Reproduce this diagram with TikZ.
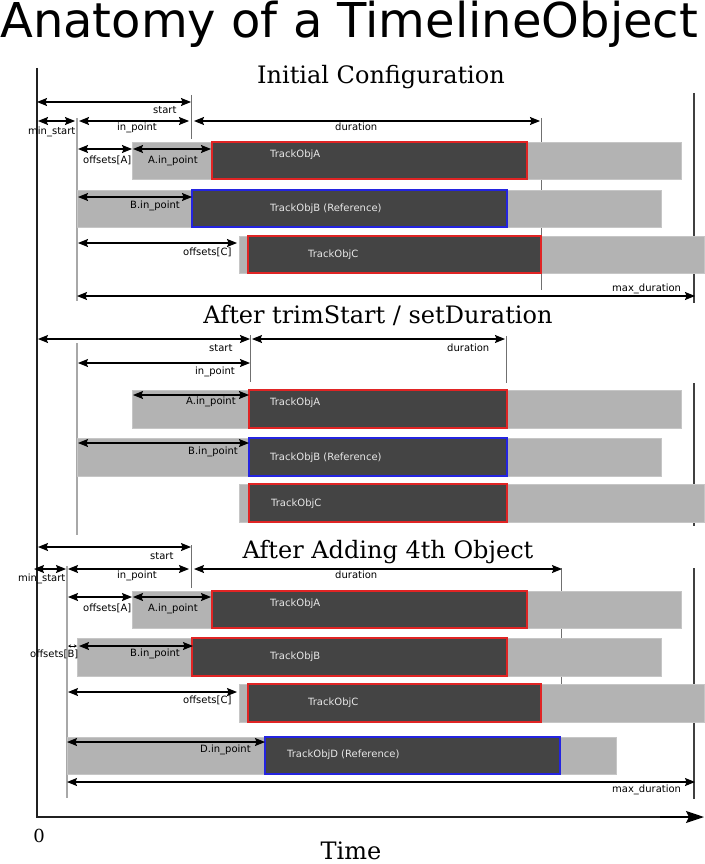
\documentclass[tikz,border=0pt]{standalone}
\usepackage{fontspec}
\setmainfont{DejaVu Serif}
\setsansfont{DejaVu Sans}
\usetikzlibrary{arrows.meta}
\definecolor{boxgray}{HTML}{B3B3B3}
\definecolor{boxedge}{HTML}{C6C6C6}
\definecolor{darkbox}{HTML}{444444}
\definecolor{redb}{HTML}{E02424}
\definecolor{blueb}{HTML}{2424E0}
\definecolor{guide}{HTML}{A8A8A8}
\definecolor{tick}{HTML}{707070}
\definecolor{boxtext}{HTML}{E8E8E8}
\definecolor{axis}{HTML}{202020}
\newcommand\tlrow[7]{%
  \fill[boxgray,draw=boxedge,line width=0.8pt] (#1,#3) rectangle (#2,#4);
  \draw[fill=darkbox,draw=#7,line width=1.2pt] (#5,#3) rectangle (#6,#4);
}
\begin{document}
\begin{tikzpicture}[x=1pt,y=-1pt,
  dim/.style={{Stealth[length=10pt,width=8pt,inset=1.5pt]}-{Stealth[length=10pt,width=8pt,inset=1.5pt]},line width=1.1pt,black},
  tinydim/.style={{Stealth[length=3pt,width=3pt]}-{Stealth[length=3pt,width=3pt]},line width=0.8pt,black},
  lbl/.style={font=\sffamily\fontsize{10}{12}\selectfont,inner sep=0,anchor=mid west,yshift=-1.2pt},
  btxt/.style={font=\sffamily\fontsize{10}{12}\selectfont,inner sep=0,anchor=mid west,yshift=-1.5pt,text=boxtext},
  sect/.style={font=\fontsize{24}{28}\selectfont,inner sep=0,anchor=base},
  guideline/.style={guide,line width=1.8pt},
  tickline/.style={tick,line width=0.9pt},
  edgeline/.style={black!75,line width=1.2pt}]
\useasboundingbox (0,0) rectangle (704,864);

% title
\node[font=\sffamily\fontsize{48}{52}\selectfont,inner sep=0,anchor=base west] (title) at (0,38) {Anatomy of a TimelineObject};

% axes
\draw[axis,line width=2pt] (37,68) -- (37,817) -- (690,817);
\draw[black,line width=1.5pt,-{Stealth[length=18pt,width=12pt,inset=3pt]}] (660,817) -- (704,817);
\node[font=\fontsize{18}{20}\selectfont,inner sep=0,anchor=base] (zero) at (39,842) {0};
\node[sect] (time) at (351,859) {Time};

% ================= Section 1 =================
\node[sect] (s1) at (381,84) {Initial Configuration};
\draw[guideline] (77,118) -- (77,301);
\draw[tickline] (191,95) -- (191,139);
\draw[tickline] (541,118) -- (541,290);
\draw[edgeline] (694,93) -- (694,303);

\tlrow{132}{681}{142}{179}{212}{527}{redb}
\tlrow{77}{661}{190}{227}{192}{507}{blueb}
\tlrow{239}{704}{236}{273}{248}{541}{redb}

\draw[dim] (37,102) -- (191,102);
\draw[dim] (38,121) -- (75,121);
\draw[dim] (79,121) -- (189,121);
\draw[dim] (194,121) -- (540,121);
\draw[dim] (78,149) -- (132,149);
\draw[dim] (133,149) -- (211,149);
\draw[dim] (78,197) -- (192,197);
\draw[dim] (78,243) -- (237,243);
\draw[dim] (77,296) -- (695,296);

\node[lbl] (s1start) at (153,110) {start};
\node[lbl] (s1min) at (28,131) {min\_start};
\node[lbl] (s1in) at (117,127) {in\_point};
\node[lbl] (s1dur) at (335,127) {duration};
\node[lbl] (s1offA) at (83,160) {offsets[A]};
\node[lbl] (s1Ain) at (148,160) {A.in\_point};
\node[lbl] (s1Bin) at (130,205) {B.in\_point};
\node[lbl] (s1offC) at (183,252) {offsets[C]};
\node[lbl] (s1max) at (612,288) {max\_duration};
\node[btxt] (s1A) at (270,153) {TrackObjA};
\node[btxt] (s1B) at (270,207) {TrackObjB (Reference)};
\node[btxt] (s1C) at (308,253) {TrackObjC};

% ================= Section 2 =================
\node[sect] (s2) at (378,323) {After trimStart / setDuration};
\draw[guideline] (77,343) -- (77,535);
\draw[tickline] (250,335) -- (250,382);
\draw[tickline] (506,336) -- (506,383);
\draw[edgeline] (694,383) -- (694,526);

\tlrow{132}{681}{390}{428}{249}{507}{redb}
\tlrow{77}{661}{438}{476}{249}{507}{blueb}
\tlrow{239}{704}{484}{522}{249}{507}{redb}

\draw[dim] (38,339) -- (250,339);
\draw[dim] (252,339) -- (505,339);
\draw[dim] (78,363) -- (250,363);
\draw[dim] (133,395) -- (249,395);
\draw[dim] (78,443) -- (249,443);

\node[lbl] (s2start) at (209,348) {start};
\node[lbl] (s2in) at (195,371) {in\_point};
\node[lbl] (s2dur) at (447,348) {duration};
\node[lbl] (s2Ain) at (186,401) {A.in\_point};
\node[lbl] (s2Bin) at (188,451) {B.in\_point};
\node[btxt] (s2A) at (270,401) {TrackObjA};
\node[btxt] (s2B) at (270,456) {TrackObjB (Reference)};
\node[btxt] (s2C) at (271,502) {TrackObjC};

% ================= Section 3 =================
\node[sect] (s3) at (388,558) {After Adding 4th Object};
\draw[guideline] (67,566) -- (67,798);
\draw[tickline] (191,545) -- (191,588);
\draw[tickline] (561,568) -- (561,722);
\draw[edgeline] (694,568) -- (694,799);

\tlrow{132}{681}{591}{628}{212}{527}{redb}
\tlrow{77}{661}{638}{676}{192}{507}{redb}
\tlrow{239}{704}{684}{722}{248}{541}{redb}
\tlrow{67}{616}{737}{774}{265}{560}{blueb}

\draw[dim] (38,547) -- (191,547);
\draw[dim] (34,569) -- (66,569);
\draw[dim] (68,569) -- (189,569);
\draw[dim] (194,569) -- (562,569);
\draw[dim] (68,597) -- (132,597);
\draw[dim] (133,597) -- (211,597);
\draw[tinydim] (68,646) -- (77,646);
\draw[dim] (79,646) -- (193,646);
\draw[dim] (68,692) -- (237,692);
\draw[dim] (67,742) -- (265,742);
\draw[dim] (67,782) -- (695,782);

\node[lbl] (s3start) at (150,556) {start};
\node[lbl] (s3min) at (18,578) {min\_start};
\node[lbl] (s3in) at (117,575) {in\_point};
\node[lbl] (s3dur) at (335,575) {duration};
\node[lbl] (s3offA) at (83,608) {offsets[A]};
\node[lbl] (s3Ain) at (148,608) {A.in\_point};
\node[lbl] (s3offB) at (30,654) {offsets[B]};
\node[lbl] (s3Bin) at (130,653) {B.in\_point};
\node[lbl] (s3offC) at (183,700) {offsets[C]};
\node[lbl] (s3Din) at (200,749) {D.in\_point};
\node[lbl] (s3max) at (612,789) {max\_duration};
\node[btxt] (s3A) at (270,602) {TrackObjA};
\node[btxt] (s3B) at (270,655) {TrackObjB};
\node[btxt] (s3C) at (308,701) {TrackObjC};
\node[btxt] (s3D) at (287,753) {TrackObjD (Reference)};
\end{tikzpicture}
\end{document}
